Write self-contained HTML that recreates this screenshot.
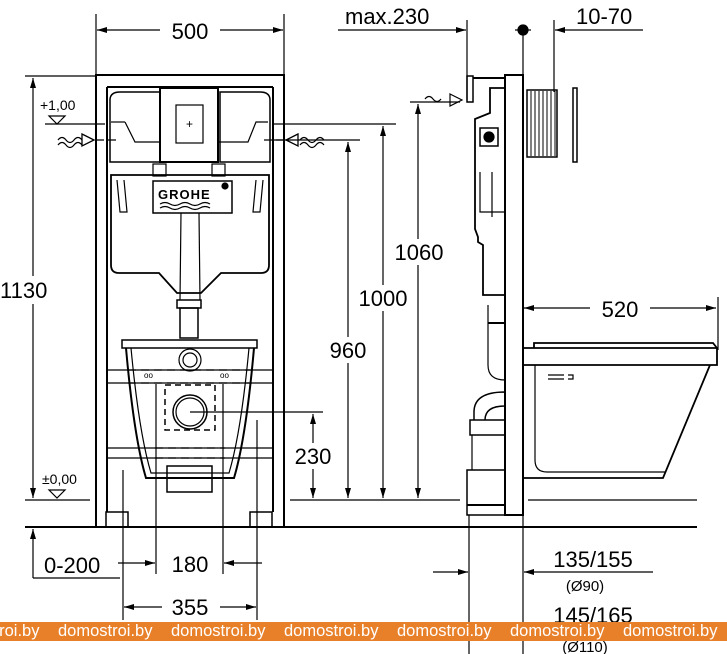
<!DOCTYPE html>
<html><head><meta charset="utf-8"><style>
html,body{margin:0;padding:0;background:#fff;width:727px;height:654px;overflow:hidden}
svg{display:block}
text{font-family:"Liberation Sans",sans-serif;fill:#000}
.b{position:absolute;left:0;top:622px;width:727px;height:19px;background:#e8802a;overflow:hidden;white-space:nowrap}
.b span{position:absolute;top:0;font:16.5px/19px "Liberation Sans",sans-serif;color:#fff}
</style></head><body>
<svg width="727" height="654" viewBox="0 0 727 654" fill="none" stroke="#000" stroke-width="1.2">
<defs>
<marker id="a" viewBox="0 0 10 6" refX="10" refY="3" markerWidth="10" markerHeight="6" orient="auto-start-reverse" markerUnits="userSpaceOnUse"><path d="M0,0L10,3L0,6z" fill="#000" stroke="none"/></marker>
</defs>
<line x1="96" y1="14" x2="96" y2="75"/><line x1="284" y1="14" x2="284" y2="75"/>
<line x1="97" y1="30" x2="283" y2="30" marker-start="url(#a)" marker-end="url(#a)"/>
<rect x="160" y="19" width="60" height="24" fill="#fff" stroke="none"/>
<text x="190" y="39" font-size="22" text-anchor="middle" stroke="none">500</text>
<g stroke-width="2">
<rect x="96" y="75" width="188" height="452"/>
<line x1="107" y1="87" x2="107" y2="512"/><line x1="273" y1="87" x2="273" y2="512"/>
<line x1="107" y1="87" x2="273" y2="87"/>
</g>
<line x1="107" y1="370" x2="273" y2="370"/><line x1="107" y1="383" x2="273" y2="383"/>
<line x1="107" y1="448" x2="273" y2="448"/><line x1="107" y1="458" x2="273" y2="458"/>
<rect x="106" y="512" width="22" height="15" stroke-width="1.5"/><rect x="250" y="512" width="22" height="15" stroke-width="1.5"/>
<path d="M110,100 q0,-8 10,-8 h40 v70 h-50z" stroke-width="1.5"/>
<path d="M270,100 q0,-8 -10,-8 h-40 v70 h50z" stroke-width="1.5"/>
<rect x="160" y="88" width="58" height="74" stroke-width="2" fill="#fff"/>
<rect x="176" y="105" width="27" height="38"/><text x="186" y="128" font-size="12" stroke="none">+</text>
<line x1="111" y1="122" x2="125" y2="122"/><path d="M125,122 l10,20 h25"/><path d="M268,122 l-12,0 l-8,20 h-30"/>
<rect x="153" y="164" width="13" height="12"/><rect x="212" y="164" width="13" height="12"/>
<path d="M111,175 h158 v90 q0,8 -8,8 h-40 l-20,20 h-24 l-18,-20 h-40 q-8,0 -8,-8z" stroke-width="1.8"/>
<path d="M117,180 l3,32 h7 l-3,-32"/><path d="M263,180 l-3,32 h-7 l3,-32"/>
<rect x="153" y="181" width="79" height="32" fill="#fff" stroke-width="1.5"/>
<text x="158" y="199" font-size="13" font-weight="bold" stroke="none" letter-spacing="1">GROHE</text>
<circle cx="225" cy="186" r="3" fill="#000"/>
<path d="M160,204 q5,-3 10,0 t10,0 t10,0 t10,0 t10,0 M160,208 q5,-3 10,0 t10,0 t10,0 t10,0 t10,0"/>
<line x1="181" y1="213" x2="180" y2="300"/><line x1="199" y1="213" x2="200" y2="300"/>
<rect x="177" y="300" width="24" height="8" stroke-width="1.5"/><rect x="180" y="308" width="18" height="30" stroke-width="1.5"/>
<rect x="122" y="340" width="135" height="8" stroke-width="1.5"/>
<path d="M126,348 q8,90 20,130 h88 q12,-40 20,-130" stroke-width="2"/>
<path d="M131,348 q8,85 20,125 h78 q12,-40 20,-125"/>
<circle cx="190" cy="360" r="11"/><circle cx="190" cy="360" r="7"/>
<line x1="128" y1="370" x2="252" y2="370" stroke-dasharray="8,5"/><line x1="128" y1="383" x2="252" y2="383" stroke-dasharray="8,5"/>
<text x="144" y="378" font-size="8" stroke="none">oo</text><text x="220" y="378" font-size="8" stroke="none">oo</text>
<rect x="165" y="385" width="50" height="45" stroke-dasharray="6,4" stroke-width="1.5"/>
<circle cx="190" cy="412" r="17" stroke-width="1.5"/><circle cx="190" cy="412" r="14"/>
<line x1="190" y1="412" x2="323" y2="412"/>
<line x1="155" y1="448" x2="225" y2="448" stroke-dasharray="8,5"/><line x1="155" y1="458" x2="225" y2="458" stroke-dasharray="8,5"/>
<rect x="167" y="466" width="45" height="26" stroke-width="1.5"/>
<path d="M58,140 q4,-5 8,0 t8,0 t8,0 M58,145 q4,-5 8,0 t8,0 t8,0"/><path d="M82,134 l12,6 l-12,6z" stroke-width="1.3"/><line x1="96" y1="140" x2="118" y2="140" stroke-dasharray="8,4"/>
<path d="M300,140 q4,-5 8,0 t8,0 t8,0 M300,145 q4,-5 8,0 t8,0 t8,0"/><path d="M298,134 l-12,6 l12,6z" stroke-width="1.3"/><line x1="284" y1="140" x2="260" y2="140" stroke-dasharray="8,4"/>
<text x="40" y="110" font-size="14" stroke="none">+1,00</text>
<path d="M49,116 h16 l-8,8z"/><line x1="45" y1="124" x2="105" y2="124"/>
<line x1="272" y1="124" x2="396" y2="124"/><line x1="272" y1="140" x2="360" y2="140"/>
<line x1="25" y1="76" x2="96" y2="76"/>
<line x1="33" y1="78" x2="33" y2="498" marker-start="url(#a)" marker-end="url(#a)"/>
<rect x="0" y="276" width="62" height="28" fill="#fff" stroke="none"/>
<text x="0" y="298" font-size="22" stroke="none">1130</text>
<text x="42" y="484" font-size="14" stroke="none">±0,00</text>
<path d="M49,490 h16 l-8,8z"/>
<line x1="25" y1="500" x2="90" y2="500"/><line x1="290" y1="500" x2="460" y2="500"/>
<line x1="25" y1="527" x2="130" y2="527" stroke-width="2"/><line x1="250" y1="527" x2="462" y2="527" stroke-width="2"/>
<line x1="348" y1="142" x2="348" y2="498" marker-start="url(#a)" marker-end="url(#a)"/>
<rect x="325" y="337" width="46" height="26" fill="#fff" stroke="none"/><text x="348" y="358" font-size="22" text-anchor="middle" stroke="none">960</text>
<line x1="383" y1="126" x2="383" y2="498" marker-start="url(#a)" marker-end="url(#a)"/>
<rect x="352" y="285" width="62" height="26" fill="#fff" stroke="none"/><text x="383" y="306" font-size="22" text-anchor="middle" stroke="none">1000</text>
<line x1="418" y1="104" x2="418" y2="498" marker-start="url(#a)" marker-end="url(#a)"/>
<rect x="388" y="239" width="62" height="26" fill="#fff" stroke="none"/><text x="419" y="260" font-size="22" text-anchor="middle" stroke="none">1060</text>
<line x1="410" y1="102" x2="460" y2="102"/>
<line x1="313" y1="414" x2="313" y2="498" marker-start="url(#a)" marker-end="url(#a)"/>
<rect x="290" y="443" width="46" height="26" fill="#fff" stroke="none"/><text x="313" y="464" font-size="22" text-anchor="middle" stroke="none">230</text>
<line x1="123" y1="470" x2="123" y2="620"/><line x1="257" y1="420" x2="257" y2="620"/>
<line x1="156" y1="384" x2="156" y2="574"/><line x1="223" y1="384" x2="223" y2="574"/>
<line x1="33" y1="529" x2="33" y2="578" marker-start="url(#a)"/><line x1="33" y1="578" x2="120" y2="578"/>
<text x="44" y="573" font-size="22" stroke="none">0-200</text>
<line x1="118" y1="563" x2="155" y2="563" marker-end="url(#a)"/><line x1="262" y1="563" x2="224" y2="563" marker-end="url(#a)"/>
<text x="190" y="572" font-size="22" text-anchor="middle" stroke="none">180</text>
<line x1="124" y1="607" x2="256" y2="607" marker-start="url(#a)" marker-end="url(#a)"/>
<rect x="162" y="594" width="58" height="26" fill="#fff" stroke="none"/><text x="190" y="615" font-size="22" text-anchor="middle" stroke="none">355</text>

<text x="345" y="24" font-size="22" stroke="none">max.230</text>
<line x1="338" y1="30" x2="466" y2="30" marker-end="url(#a)"/>
<line x1="467" y1="20" x2="467" y2="100"/>
<circle cx="523" cy="30" r="5" fill="#000"/><line x1="515" y1="30" x2="531" y2="30"/><line x1="523" y1="30" x2="523" y2="75"/>
<line x1="554" y1="20" x2="554" y2="92"/>
<line x1="643" y1="30" x2="555" y2="30" marker-end="url(#a)"/>
<text x="576" y="24" font-size="22" stroke="none">10-70</text>
<rect x="505" y="75" width="18" height="440" stroke-width="2"/>
<line x1="523" y1="75" x2="523" y2="654"/>
<rect x="527" y="90" width="30" height="67" stroke-width="1.5"/>
<g stroke-width="1">
<line x1="531" y1="91" x2="531" y2="156"/><line x1="535" y1="91" x2="535" y2="156"/><line x1="539" y1="91" x2="539" y2="156"/><line x1="543" y1="91" x2="543" y2="156"/><line x1="547" y1="91" x2="547" y2="156"/><line x1="551" y1="91" x2="551" y2="156"/><line x1="555" y1="91" x2="555" y2="156"/>
</g>
<rect x="573" y="88" width="4" height="74" stroke-width="1.5"/>
<path d="M467,76 h6 v26 h-6z" stroke-width="1.5"/><line x1="473" y1="78" x2="505" y2="78" stroke-width="2"/>
<path d="M505,88 h-15 v25 l-15,6 v110 l3,8 v5 l5,3 v50 h22" stroke-width="1.8"/>
<rect x="480" y="128" width="18" height="18" stroke-width="1.5"/><circle cx="489" cy="137" r="5" fill="#000"/>
<path d="M480,172 v40 h25 M492,172 v45"/>
<path d="M488,305 v60 q0,15 17,15"/><line x1="488" y1="323" x2="505" y2="323" stroke-width="2"/>
<path d="M474,420 v-8 q0,-20 31,-20 v14 q-20,0 -20,14" stroke-width="1.5"/>
<rect x="470" y="420" width="35" height="15" stroke-width="1.5"/>
<line x1="472" y1="435" x2="472" y2="470"/>
<rect x="467" y="470" width="38" height="45" stroke-width="1.5"/><line x1="467" y1="505" x2="505" y2="505" stroke-width="2"/>
<line x1="469" y1="515" x2="469" y2="654"/>
<path d="M425,99 q4,-5 8,0 t8,0"/><path d="M450,94 l12,6 l-12,6z"/>
<line x1="524" y1="308" x2="716" y2="308" marker-start="url(#a)" marker-end="url(#a)"/>
<rect x="590" y="296" width="60" height="26" fill="#fff" stroke="none"/><text x="620" y="317" font-size="22" text-anchor="middle" stroke="none">520</text>
<line x1="718" y1="297" x2="718" y2="350"/>
<path d="M534,348 v-5 h179 l4,5" stroke-width="1.8"/>
<path d="M523,348 h194 v17 h-194" stroke-width="1.8"/>
<path d="M710,365 l-47,113 h-140" stroke-width="1.8"/>
<path d="M535,365 v95 q0,12 12,12 h118"/>
<path d="M548,375 h16 M548,379 h16 M568,375 h5 v4 h-5"/>
<line x1="528" y1="500" x2="697" y2="500"/>
<line x1="400" y1="527" x2="697" y2="527" stroke-width="2"/>
<line x1="433" y1="572" x2="468" y2="572" marker-end="url(#a)"/><line x1="653" y1="572" x2="524" y2="572" marker-end="url(#a)"/>
<text x="593" y="567" font-size="22" text-anchor="middle" stroke="none">135/155</text>
<text x="585" y="591" font-size="15" text-anchor="middle" stroke="none">(Ø90)</text>
<text x="593" y="623" font-size="22" text-anchor="middle" stroke="none">145/165</text>
<text x="585" y="652" font-size="15" text-anchor="middle" stroke="none">(Ø110)</text>
</svg>
<div class="b">
<span style="left:-55px">domostroi.by</span><span style="left:58px">domostroi.by</span><span style="left:171px">domostroi.by</span><span style="left:284px">domostroi.by</span><span style="left:397px">domostroi.by</span><span style="left:510px">domostroi.by</span><span style="left:623px">domostroi.by</span>
</div>
</body></html>
